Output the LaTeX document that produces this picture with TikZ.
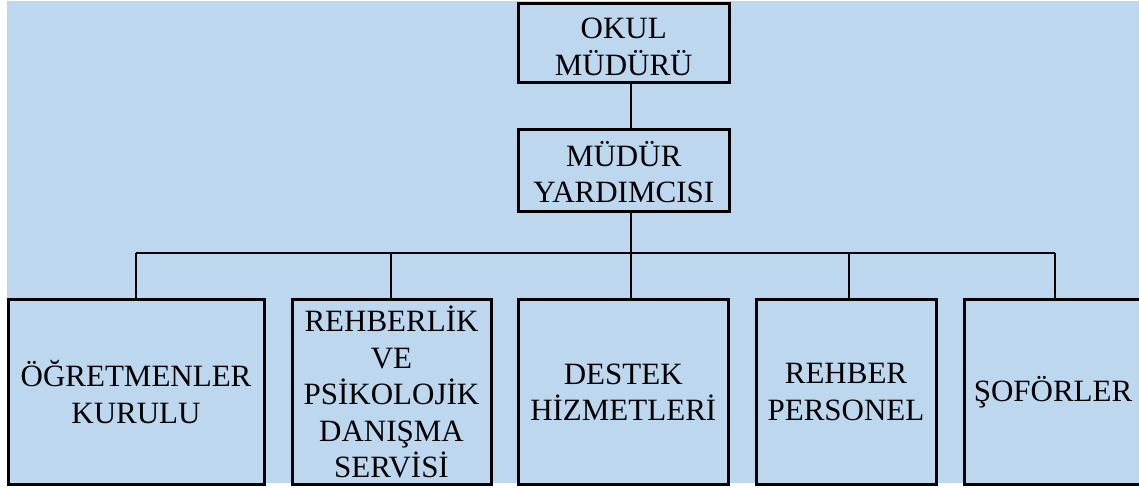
\documentclass[tikz,border=0pt]{standalone}
\usepackage{fontspec}
\setmainfont{Liberation Serif}
\definecolor{bgblue}{RGB}{189,215,238}
\begin{document}
\begin{tikzpicture}[x=1pt,y=-1pt,
  orgbox/.style={draw=black, line width=3pt, fill=bgblue, inner sep=0pt,
    align=center, font=\fontsize{31}{36.5}\selectfont},
  boxtext/.style={inner sep=0pt, align=center, font=\fontsize{31}{36.5}\selectfont},
  link/.style={draw=black, line width=2.2pt}]
\useasboundingbox (0,0) rectangle (1139,489);
\fill[bgblue] (7,1) rectangle (1139,483);
% top boxes
\node[orgbox, minimum width=210.5pt, minimum height=79pt,
  label={[boxtext, yshift=-4pt]center:OKUL\\MÜDÜRÜ}] (mud) at (623.75,43) {};
\node[orgbox, minimum width=210.5pt, minimum height=81.5pt,
  label={[boxtext, yshift=-2pt]center:MÜDÜR\\YARDIMCISI}] (yrd) at (623.75,170.25) {};
% bottom boxes
\node[orgbox, minimum width=256pt, minimum height=185pt] (b1) at (136,392) {ÖĞRETMENLER\\KURULU};
\node[orgbox, minimum width=199pt, minimum height=185pt] (b2) at (391.5,392) {REHBERLİK\\VE\\PSİKOLOJİK\\DANIŞMA\\SERVİSİ};
\node[orgbox, minimum width=209.5pt, minimum height=185pt] (b3) at (623.25,392) {DESTEK\\HİZMETLERİ};
\node[orgbox, minimum width=180pt, minimum height=185pt] (b4) at (846,392) {REHBER\\PERSONEL};
\node[orgbox, minimum width=178pt, minimum height=185pt] (b5) at (1053,392) {ŞOFÖRLER};
% bus coordinates
\coordinate (j1) at (136,253);
\coordinate (j2) at (391,253);
\coordinate (j3) at (631,253);
\coordinate (j4) at (849,253);
\coordinate (j5) at (1055,253);
% connectors
\draw[link] (mud.south -| j3) -- (yrd.north -| j3);
\draw[link] (yrd.south -| j3) -- (j3);
\draw[link] (j1) -- (j5);
\draw[link] (j1) -- (j1 |- b1.north);
\draw[link] (j2) -- (j2 |- b2.north);
\draw[link] (j3) -- (j3 |- b3.north);
\draw[link] (j4) -- (j4 |- b4.north);
\draw[link] (j5) -- (j5 |- b5.north);
\end{tikzpicture}
\end{document}
